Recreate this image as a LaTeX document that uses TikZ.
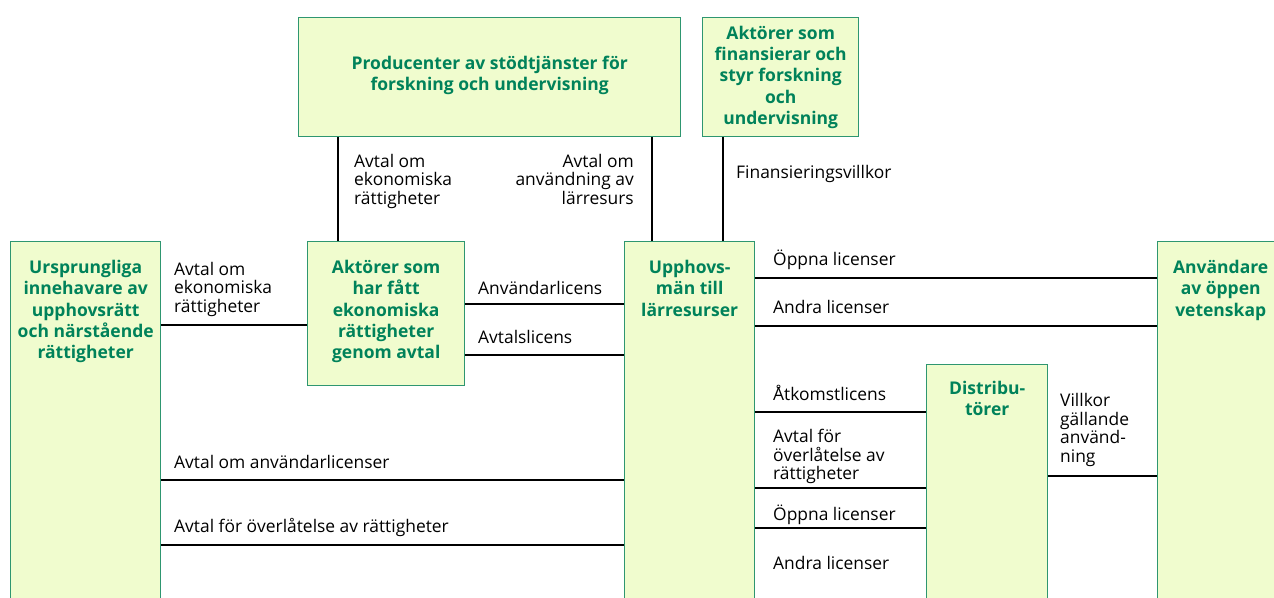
\documentclass[tikz,border=0pt]{standalone}
\usepackage{fontspec}
\setmainfont{Open Sans}
\usepackage{xcolor}
\usetikzlibrary{positioning}
\definecolor{boxfill}{RGB}{240,252,206}
\definecolor{boxline}{RGB}{46,150,112}
\definecolor{titlegreen}{RGB}{0,130,90}

\begin{document}
\begin{tikzpicture}[x=1pt,y=-1pt,
        box/.style={rectangle,draw=boxline,fill=boxfill,line width=1.4pt,inner sep=0pt,anchor=north west},
        title/.style={text=titlegreen,font=\bfseries\fontsize{17.5}{21.3}\selectfont,align=center,inner sep=0pt},
        lbl/.style={font=\fontsize{17.4}{18.4}\selectfont,align=left,inner sep=0pt,anchor=base west},
        link/.style={line width=2.7pt,black}]
        \clip (0,0) rectangle (1274,597);
        % boxes
        \node[box,minimum width=382pt,minimum height=119pt] (prod) at (298,17) {};
        \node[box,minimum width=156pt,minimum height=119pt] (fin) at (702,17) {};
        \node[box,minimum width=150pt,minimum height=400pt] (urs) at (10,241) {};
        \node[box,minimum width=157pt,minimum height=144pt] (akt) at (307,241) {};
        \node[box,minimum width=130pt,minimum height=400pt] (upph) at (624,241) {};
        \node[box,minimum width=121pt,minimum height=280pt] (dist) at (926,364) {};
        \node[box,minimum width=126pt,minimum height=400pt] (anv) at (1157,241) {};
        % titles
        \node[title] (prodtitle) at ([yshift=2pt]prod.center) {Producenter av stödtjänster för\\forskning och undervisning};
        \node[title] (fintitle) at (fin.center) {Aktörer som\\finansierar och\\styr forskning\\och\\undervisning};
        \node[title,below=19pt of urs.north] (urstitle) {Ursprungliga\\innehavare av\\upphovsrätt\\och närstående\\rättigheter};
        \node[title,below=19pt of akt.north] (akttitle) {Aktörer som\\har fått\\ekonomiska\\rättigheter\\genom avtal};
        \node[title,below=19pt of upph.north] (upphtitle) {Upphovs-\\män till\\lärresurser};
        \node[title,below=17pt of dist.north] (disttitle) {Distribu-\\törer};
        \node[title,below=19pt of anv.north] (anvtitle) {Användare\\av öppen\\vetenskap};
        % connectors
        \draw[link] (prod.south -| 338,0) -- (akt.north -| 338,0);
        \draw[link] (prod.south -| 652,0) -- (upph.north -| 652,0);
        \draw[link] (fin.south -| 723,0) -- (upph.north -| 723,0);
        \draw[link] (urs.east |- 0,325) -- (akt.west |- 0,325);
        \draw[link] (akt.east |- 0,304) -- (upph.west |- 0,304);
        \draw[link] (akt.east |- 0,355) -- (upph.west |- 0,355);
        \draw[link] (upph.east |- 0,278) -- (anv.west |- 0,278);
        \draw[link] (upph.east |- 0,326) -- (anv.west |- 0,326);
        \draw[link] (upph.east |- 0,412) -- (dist.west |- 0,412);
        \draw[link] (upph.east |- 0,488) -- (dist.west |- 0,488);
        \draw[link] (upph.east |- 0,528) -- (dist.west |- 0,528);
        \draw[link] (dist.east |- 0,476) -- (anv.west |- 0,476);
        \draw[link] (urs.east |- 0,480) -- (upph.west |- 0,480);
        \draw[link] (urs.east |- 0,545) -- (upph.west |- 0,545);
        % labels (base = last line)
        \node[lbl] (ekprod) at (354,204) {Avtal om\\ekonomiska\\rättigheter};
        \node[lbl,anchor=base east,align=right] (anvprod) at (634,204) {Avtal om\\användning av\\lärresurs};
        \node[lbl] (finvillkor) at (736,178) {Finansieringsvillkor};
        \node[lbl] (ekurs) at (174,312) {Avtal om\\ekonomiska\\rättigheter};
        \node[lbl] (anvlic) at (478,294) {Användarlicens};
        \node[lbl] (avtlic) at (478,343) {Avtalslicens};
        \node[lbl] (oppna) at (773,265) {Öppna licenser};
        \node[lbl] (andra) at (773,313) {Andra licenser};
        \node[lbl] (atkomst) at (773,400) {Åtkomstlicens};
        \node[lbl] (overlat) at (773,479.5) {Avtal för\\överlåtelse av\\rättigheter};
        \node[lbl] (oppnadist) at (773,520) {Öppna licenser};
        \node[lbl] (andradist) at (773,569) {Andra licenser};
        \node[lbl] (villkor) at (1060,462) {Villkor\\gällande\\använd-\\ning};
        \node[lbl] (anvurs) at (174,468) {Avtal om användarlicenser};
        \node[lbl] (overurs) at (174,532) {Avtal för överlåtelse av rättigheter};
\end{tikzpicture}
\end{document}
